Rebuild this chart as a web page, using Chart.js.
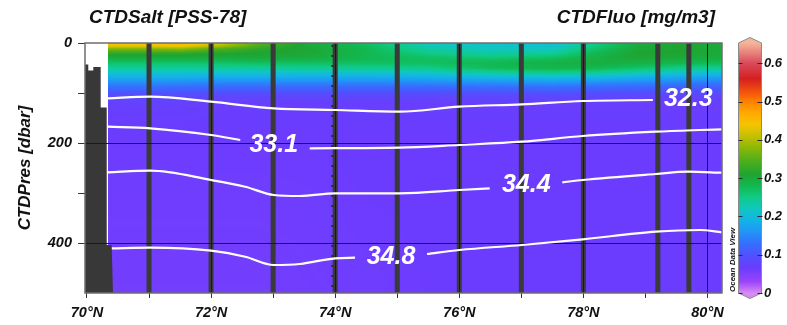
<!DOCTYPE html>
<html>
<head>
<meta charset="utf-8">
<script src="https://cdn.jsdelivr.net/npm/chart.js@4/dist/chart.umd.min.js"></script>
<style>
  html, body { margin: 0; padding: 0; background: #ffffff; }
  #wrap { width: 787px; height: 325px; }
</style>
</head>
<body>
<div id="wrap"><canvas id="c" width="787" height="325"></canvas></div>
<script>
// ---- axis ticks ----
const latTicks = [70, 71, 72, 73, 74, 75, 76, 77, 78, 79, 80];
const presTicks = [0, 100, 200, 300, 400];
const fluoTicks = [0, 0.1, 0.2, 0.3, 0.4, 0.5, 0.6];

// ---- station columns (dark bars) ----
const stationLat = [71, 72, 73, 74, 75, 76, 77, 78, 79.2, 79.7];
const sampleLineLat = 73.955;

// ---- fluorescence field: profiles at given latitudes ----
const profileDepth = [0, 6, 12, 20, 30, 40, 50, 60, 70, 80, 90, 100, 110, 125, 200, 500];
const profileLat = [70.334, 71.0, 71.5, 72.1, 72.8, 73.6, 74.5, 75.5, 76.5, 77.5, 78.2, 78.9, 79.6, 80.234];
const fluoProfiles = [
  [0.45, 0.43, 0.37, 0.325, 0.295, 0.265, 0.24, 0.21, 0.18, 0.15, 0.125, 0.10, 0.082, 0.07, 0.064, 0.058],
  [0.45, 0.43, 0.37, 0.325, 0.295, 0.265, 0.24, 0.21, 0.18, 0.15, 0.125, 0.10, 0.08, 0.07, 0.064, 0.058],
  [0.46, 0.44, 0.38, 0.325, 0.295, 0.265, 0.24, 0.21, 0.18, 0.148, 0.122, 0.098, 0.08, 0.07, 0.064, 0.058],
  [0.43, 0.40, 0.345, 0.315, 0.295, 0.265, 0.24, 0.21, 0.175, 0.145, 0.12, 0.095, 0.078, 0.068, 0.064, 0.058],
  [0.35, 0.335, 0.32, 0.31, 0.30, 0.27, 0.24, 0.21, 0.175, 0.145, 0.118, 0.094, 0.077, 0.068, 0.064, 0.058],
  [0.30, 0.30, 0.305, 0.305, 0.295, 0.27, 0.245, 0.21, 0.175, 0.145, 0.118, 0.094, 0.077, 0.068, 0.064, 0.06],
  [0.27, 0.275, 0.28, 0.28, 0.28, 0.27, 0.245, 0.21, 0.175, 0.145, 0.118, 0.094, 0.077, 0.068, 0.065, 0.062],
  [0.22, 0.225, 0.235, 0.25, 0.27, 0.27, 0.25, 0.215, 0.18, 0.148, 0.12, 0.095, 0.077, 0.068, 0.065, 0.064],
  [0.215, 0.215, 0.22, 0.235, 0.26, 0.28, 0.275, 0.235, 0.19, 0.152, 0.122, 0.096, 0.078, 0.068, 0.065, 0.065],
  [0.21, 0.21, 0.22, 0.24, 0.27, 0.29, 0.285, 0.245, 0.195, 0.155, 0.125, 0.098, 0.079, 0.068, 0.065, 0.065],
  [0.25, 0.255, 0.265, 0.28, 0.29, 0.295, 0.28, 0.24, 0.19, 0.15, 0.12, 0.095, 0.077, 0.068, 0.065, 0.065],
  [0.30, 0.30, 0.305, 0.31, 0.305, 0.29, 0.265, 0.225, 0.18, 0.145, 0.117, 0.092, 0.076, 0.068, 0.065, 0.065],
  [0.31, 0.31, 0.31, 0.31, 0.30, 0.28, 0.25, 0.21, 0.17, 0.14, 0.112, 0.09, 0.075, 0.068, 0.065, 0.065],
  [0.30, 0.30, 0.30, 0.30, 0.295, 0.275, 0.245, 0.205, 0.165, 0.135, 0.11, 0.088, 0.074, 0.068, 0.065, 0.065]
];

// ---- seabed outline near the shelf ----
const seabedLat = [69.968, 70.021, 70.021, 70.102, 70.102, 70.221, 70.221, 70.318, 70.318, 70.398, 70.419, 69.968];
const seabedDep = [43, 43, 55, 55, 48, 48, 129, 129, 404, 404, 500, 500];

// ---- salinity isolines (null = gap for the label) ----
const isoLevels = [32.3, 33.1, 34.4, 34.8];
const salt323Lat = [70.334, 71.02, 72.0, 73.01, 74.0, 75.04, 76.0, 77.01, 77.99, 79.12];
const salt323Dep = [110.6, 107.4, 117.4, 130.6, 134, 137.4, 127.4, 122.6, 116, 114];
const salt331Lat = [70.334, 71.02, 72.0, 72.47, null, 73.59, 75.04, 76.0, 77.01, 77.99, 79.17, 79.88, 80.234];
const salt331Dep = [167.4, 170.6, 184, 194, null, 210.6, 209.4, 204, 197.4, 186, 177.4, 174, 172.6];
const salt344Lat = [70.334, 71.02, 72.0, 72.55, 73.01, 73.43, 74.0, 75.04, 76.0, 76.49, null, 77.66, 77.99, 79.17, 79.69, 80.234];
const salt344Dep = [258.6, 255.4, 274, 287.4, 304, 306, 300.6, 300.6, 294, 290.6, null, 278.6, 274, 262, 257.4, 259.4];
const salt348Lat = [70.40, 71.02, 72.0, 72.55, 73.01, 73.43, 74.0, 74.32, null, 75.48, 76.0, 77.01, 77.99, 79.17, 79.88, 80.234];
const salt348Dep = [410.6, 409.4, 415.4, 427.4, 444, 442, 430.6, 429.4, null, 422, 414, 404, 392.6, 377.4, 374, 378.6];
const isoLabelLat = [79.69, 73.01, 77.08, 74.90];
const isoLabelDep = [112, 204, 284, 428];

// ---- colour map for fluorescence ----
const fluoPalette = [
  [0.00, '#d68af2'], [0.03, '#9a44fa'], [0.065, '#6b3cfe'], [0.10, '#4f52ff'],
  [0.13, '#3470ff'], [0.16, '#2196f6'], [0.19, '#12b4e6'], [0.22, '#10c6c0'],
  [0.25, '#0fcb86'], [0.28, '#12b850'], [0.31, '#1fa431'], [0.345, '#4fae1c'],
  [0.38, '#8cb807'], [0.41, '#c4c000'], [0.44, '#f5c400'], [0.47, '#ffaa00'],
  [0.50, '#ff8000'], [0.53, '#f04a10'], [0.56, '#d42020'], [0.60, '#d84a5a'],
  [0.653, '#f5b59a']
].map(([v, h]) => [v, parseInt(h.slice(1, 3), 16), parseInt(h.slice(3, 5), 16), parseInt(h.slice(5, 7), 16)]);

function fluoColor(v) {
  const p = fluoPalette;
  if (v <= p[0][0]) return [p[0][1], p[0][2], p[0][3]];
  for (let i = 1; i < p.length; i++) {
    if (v <= p[i][0]) {
      const t = (v - p[i - 1][0]) / (p[i][0] - p[i - 1][0]);
      return [0, 1, 2].map(k => Math.round(p[i - 1][k + 1] + (p[i][k + 1] - p[i - 1][k + 1]) * t));
    }
  }
  const l = p[p.length - 1];
  return [l[1], l[2], l[3]];
}

function profileAt(prof, dep) {
  const d = profileDepth;
  if (dep <= d[0]) return prof[0];
  for (let i = 1; i < d.length; i++) {
    if (dep <= d[i]) {
      const t = (dep - d[i - 1]) / (d[i] - d[i - 1]);
      return prof[i - 1] + (prof[i] - prof[i - 1]) * t;
    }
  }
  return prof[prof.length - 1];
}

function fluoAt(lat, dep) {
  let i = 0;
  while (i < profileLat.length - 2 && lat > profileLat[i + 1]) i++;
  let t = (lat - profileLat[i]) / (profileLat[i + 1] - profileLat[i]);
  t = Math.max(0, Math.min(1, t));
  const a = profileAt(fluoProfiles[i], dep);
  const b = profileAt(fluoProfiles[i + 1], dep);
  return a + (b - a) * t;
}

function splitSegments(lats, deps) {
  const segs = [];
  let cur = [];
  lats.forEach((x, i) => {
    if (x === null) { if (cur.length) segs.push(cur); cur = []; }
    else cur.push({ x: x, y: deps[i] });
  });
  if (cur.length) segs.push(cur);
  return segs;
}

const isoSeries = [
  [salt323Lat, salt323Dep], [salt331Lat, salt331Dep],
  [salt344Lat, salt344Dep], [salt348Lat, salt348Dep]
];
const datasets = [];
isoSeries.forEach(([la, de], k) => {
  splitSegments(la, de).forEach(seg => {
    datasets.push({
      label: 'S ' + isoLevels[k],
      data: seg,
      showLine: true,
      borderColor: '#ffffff',
      borderWidth: 2.2,
      pointRadius: 0,
      cubicInterpolationMode: 'monotone',
      fill: false
    });
  });
});

const FONT = '"Liberation Sans", Arial, Helvetica, sans-serif';

// Paints the fluorescence field, seabed and station columns below the grid,
// then labels, frame, colour bar and headers on top.
const sectionPlugin = {
  id: 'section',
  beforeDraw(chart) {
    const { ctx, chartArea: a, scales } = chart;
    const xs = scales.x, ys = scales.y;
    const w = Math.round(a.right - a.left), h = Math.round(a.bottom - a.top);
    const off = document.createElement('canvas');
    off.width = w; off.height = h;
    const octx = off.getContext('2d');
    const img = octx.createImageData(w, h);
    const x0 = xs.getPixelForValue(profileLat[0]);
    for (let i = 0; i < w; i++) {
      const px = a.left + i + 0.5;
      if (px < x0) continue;
      const lat = xs.getValueForPixel(px);
      for (let j = 0; j < h; j++) {
        const dep = ys.getValueForPixel(a.top + j + 0.5);
        const c = fluoColor(fluoAt(lat, dep));
        const o = (j * w + i) * 4;
        img.data[o] = c[0]; img.data[o + 1] = c[1]; img.data[o + 2] = c[2]; img.data[o + 3] = 255;
      }
    }
    octx.putImageData(img, 0, 0);
    ctx.save();
    ctx.drawImage(off, a.left, a.top);

    ctx.beginPath();
    ctx.rect(a.left, a.top, a.right - a.left, a.bottom - a.top);
    ctx.clip();

    // seabed
    ctx.fillStyle = '#383838';
    ctx.beginPath();
    seabedLat.forEach((la, i) => {
      const px = xs.getPixelForValue(la), py = ys.getPixelForValue(seabedDep[i]);
      if (i === 0) ctx.moveTo(px, py); else ctx.lineTo(px, py);
    });
    ctx.closePath();
    ctx.fill();

    // station columns
    ctx.fillStyle = '#3a3a3a';
    stationLat.forEach(la => {
      const px = xs.getPixelForValue(la);
      ctx.fillRect(px - 2.5, a.top, 5, a.bottom - a.top);
    });

    // sample dots beside the 74°N column
    ctx.strokeStyle = '#2c2c2c';
    ctx.lineWidth = 2;
    ctx.setLineDash([2, 8]);
    const sx = xs.getPixelForValue(sampleLineLat);
    ctx.beginPath();
    ctx.moveTo(sx, a.top + 2);
    ctx.lineTo(sx, a.bottom);
    ctx.stroke();
    ctx.setLineDash([]);
    ctx.restore();
  },
  afterDraw(chart) {
    const { ctx, chartArea: a, scales } = chart;
    const xs = scales.x, ys = scales.y, cb = scales.cb;
    ctx.save();

    // isoline labels
    ctx.fillStyle = '#ffffff';
    ctx.font = 'italic bold 25px ' + FONT;
    ctx.textAlign = 'center';
    ctx.textBaseline = 'middle';
    isoLevels.forEach((lv, i) => {
      ctx.fillText(lv.toFixed(1), xs.getPixelForValue(isoLabelLat[i]), ys.getPixelForValue(isoLabelDep[i]));
    });

    // plot frame
    ctx.strokeStyle = '#6e6e6e';
    ctx.lineWidth = 1.5;
    ctx.strokeRect(a.left, a.top, a.right - a.left, a.bottom - a.top);

    // colour bar
    const bl = 738.5, br = 761.5;
    const yTop = cb.getPixelForValue(cb.max), yBot = cb.getPixelForValue(0);
    for (let y = Math.floor(yTop); y < Math.ceil(yBot); y++) {
      const c = fluoColor(cb.getValueForPixel(y + 0.5));
      ctx.fillStyle = 'rgb(' + c.join(',') + ')';
      ctx.fillRect(bl, y, br - bl, 1);
    }
    const ct = fluoColor(cb.max), cbo = fluoColor(0);
    ctx.fillStyle = 'rgb(' + ct.join(',') + ')';
    ctx.beginPath();
    ctx.moveTo(bl, yTop); ctx.lineTo((bl + br) / 2, yTop - 5.5); ctx.lineTo(br, yTop); ctx.closePath(); ctx.fill();
    ctx.fillStyle = 'rgb(' + cbo.join(',') + ')';
    ctx.beginPath();
    ctx.moveTo(bl, yBot); ctx.lineTo((bl + br) / 2, yBot + 5.5); ctx.lineTo(br, yBot); ctx.closePath(); ctx.fill();
    ctx.strokeStyle = '#8a8a8a';
    ctx.lineWidth = 1;
    ctx.beginPath();
    ctx.moveTo(bl, yTop); ctx.lineTo((bl + br) / 2, yTop - 5.5); ctx.lineTo(br, yTop);
    ctx.lineTo(br, yBot); ctx.lineTo((bl + br) / 2, yBot + 5.5); ctx.lineTo(bl, yBot); ctx.closePath();
    ctx.stroke();
    ctx.strokeStyle = '#2a2a2a';
    fluoTicks.forEach(v => {
      const y = Math.round(cb.getPixelForValue(v)) + 0.5;
      ctx.beginPath();
      ctx.moveTo(bl, y); ctx.lineTo(bl + 4, y);
      ctx.moveTo(br - 4, y); ctx.lineTo(br + 1, y);
      ctx.stroke();
    });

    // headers
    ctx.fillStyle = '#111111';
    ctx.textBaseline = 'alphabetic';
    ctx.font = 'italic bold 19px ' + FONT;
    ctx.textAlign = 'left';
    ctx.fillText('CTDSalt [PSS-78]', 89, 22.5);
    ctx.textAlign = 'right';
    ctx.fillText('CTDFluo [mg/m3]', 715, 22.5);

    // software credit along the colour bar
    ctx.font = 'italic bold 8px ' + FONT;
    ctx.textAlign = 'left';
    ctx.translate(735, 292);
    ctx.rotate(-Math.PI / 2);
    ctx.fillText('Ocean Data View', 0, 0);
    ctx.restore();
  }
};

const tickFont = { family: FONT, size: 14.5, style: 'italic', weight: 'bold' };

new Chart(document.getElementById('c'), {
  type: 'scatter',
  data: { datasets: datasets },
  options: {
    responsive: false,
    animation: false,
    devicePixelRatio: 1,
    layout: { padding: { top: 43, left: 0, right: 0, bottom: 0 } },
    plugins: { legend: { display: false }, title: { display: false }, tooltip: { enabled: false } },
    scales: {
      x: {
        type: 'linear', position: 'bottom',
        min: 69.968, max: 80.234,
        afterBuildTicks: s => { s.ticks = latTicks.map(v => ({ value: v })); },
        afterFit: s => { s.height = 32; },
        ticks: {
          autoSkip: false, maxRotation: 0, padding: 6, color: '#111111', font: tickFont,
          callback: v => (Math.round(v) % 2 === 0 ? Math.round(v) + '°N' : '')
        },
        grid: {
          color: c => (c.tick && c.tick.value % 2 === 0 && c.tick.value > 70 ? '#1a1a1a' : 'rgba(0,0,0,0)'),
          lineWidth: 1, tickLength: 5, tickColor: '#333333'
        },
        border: { display: false }
      },
      y: {
        type: 'linear', position: 'left', reverse: true,
        min: 0, max: 500,
        afterBuildTicks: s => { s.ticks = presTicks.map(v => ({ value: v })); },
        afterFit: s => { s.width = 85; },
        ticks: {
          autoSkip: false, padding: 6, color: '#111111', font: tickFont,
          callback: v => (v % 200 === 0 ? String(v) : '')
        },
        grid: {
          color: c => (c.tick && (c.tick.value === 200 || c.tick.value === 400) ? '#1a1a1a' : 'rgba(0,0,0,0)'),
          lineWidth: 1, tickLength: 7, tickColor: '#333333'
        },
        border: { display: false },
        title: {
          display: true, text: 'CTDPres [dbar]', color: '#111111',
          font: { family: FONT, size: 17, style: 'italic', weight: 'bold' },
          padding: { top: 15, bottom: 0 }
        }
      },
      cb: {
        type: 'linear', position: 'right',
        min: 0, max: 0.653,
        afterBuildTicks: s => { s.ticks = fluoTicks.map(v => ({ value: v })); },
        afterFit: s => { s.width = 65; },
        ticks: {
          autoSkip: false, padding: 0, color: '#111111',
          font: { family: FONT, size: 13, style: 'italic', weight: 'bold' },
          callback: v => (v === 0 ? '0' : v.toFixed(1))
        },
        // invisible tick marks push the labels past the colour bar
        grid: { display: true, drawOnChartArea: false, tickLength: 42, color: 'rgba(0,0,0,0)', tickColor: 'rgba(0,0,0,0)' },
        border: { display: false }
      }
    }
  },
  plugins: [sectionPlugin]
});
</script>
</body>
</html>
